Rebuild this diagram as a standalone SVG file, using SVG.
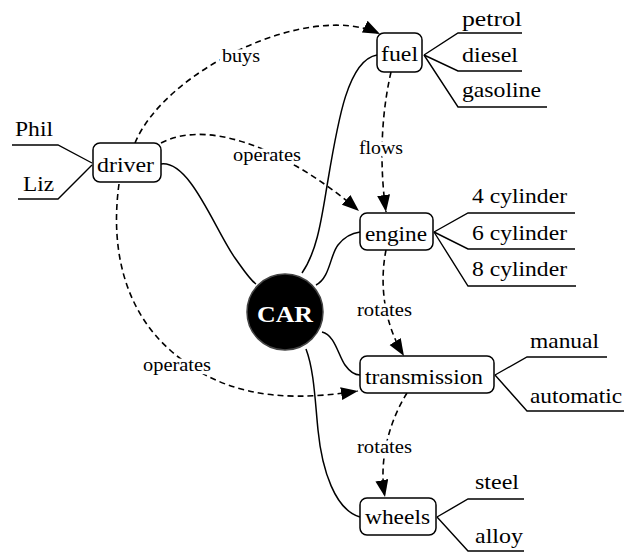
<svg xmlns="http://www.w3.org/2000/svg" width="624" height="552" viewBox="0 0 624 552">
<defs>
<style>
.box{fill:#fff;stroke:#000;stroke-width:1.5}
.t{font-family:"Liberation Serif","Times New Roman",serif;font-size:21px;fill:#000}
.lbl{font-family:"Liberation Serif","Times New Roman",serif;font-size:18px;fill:#000;stroke:#fff;stroke-width:7;stroke-linejoin:round;paint-order:stroke}
.solid{fill:none;stroke:#000;stroke-width:1.5}
.dash{fill:none;stroke:#000;stroke-width:1.6;stroke-dasharray:6 4}
.leaf{fill:none;stroke:#000;stroke-width:1.4}
</style>
<marker id="arr" markerUnits="userSpaceOnUse" markerWidth="18" markerHeight="14" refX="17" refY="6.5" orient="auto">
<path d="M0,0 L17,6.5 L0,13 Z" fill="#000"/>
</marker>
</defs>
<rect width="624" height="552" fill="#fff"/>
<g id="connectors">
<path class="solid" d="M161,164 C190,160 215,230 235,258 C245,272 250,280 256,284"/>
<path class="solid" d="M302,273 C318,250 322,215 328,180 C338,120 348,60 377,55"/>
<path class="solid" d="M316,285 C330,278 330,255 338,245 C345,236 352,233 360,232"/>
<path class="solid" d="M322,332 C335,335 338,355 345,365 C350,372 355,375 360,375"/>
<path class="solid" d="M306,349 C314,370 315,400 318,430 C322,470 335,510 360,517"/>
<polyline class="leaf" points="12,145 58,145 92,163"/>
<polyline class="leaf" points="18,199 58,199 92,165"/>
<polyline class="leaf" points="424,55 458,33 522,33"/>
<polyline class="leaf" points="424,55 458,71 522,71"/>
<polyline class="leaf" points="424,55 458,107 547,107"/>
<polyline class="leaf" points="434,232 468,213 575,213"/>
<polyline class="leaf" points="434,232 468,249 575,249"/>
<polyline class="leaf" points="434,232 468,286 576,286"/>
<polyline class="leaf" points="495,375 527,357 607,357"/>
<polyline class="leaf" points="495,375 527,411 624,411"/>
<polyline class="leaf" points="437,517 468,499 524,499"/>
<polyline class="leaf" points="437,517 468,551 524,551"/>
<path class="dash" d="M135,143 C165,70 310,0 380,34" marker-end="url(#arr)"/>
<path class="dash" d="M161,143 C215,115 300,160 359,211" marker-end="url(#arr)"/>
<path class="dash" d="M391,72 C380,120 380,170 386,212" marker-end="url(#arr)"/>
<path class="dash" d="M386,250 C380,280 382,320 404,356" marker-end="url(#arr)"/>
<path class="dash" d="M407,393 C390,420 378,460 385,497" marker-end="url(#arr)"/>
<path class="dash" d="M119,184 C110,250 125,310 170,350 S270,405 358,391" marker-end="url(#arr)"/>
</g>
<g id="labels">
<text class="lbl" x="222" y="62" textLength="38" lengthAdjust="spacingAndGlyphs">buys</text>
<text class="lbl" x="233" y="161" textLength="68" lengthAdjust="spacingAndGlyphs">operates</text>
<text class="lbl" x="359" y="154" textLength="44" lengthAdjust="spacingAndGlyphs">flows</text>
<text class="lbl" x="357" y="316" textLength="55" lengthAdjust="spacingAndGlyphs">rotates</text>
<text class="lbl" x="357" y="453" textLength="55" lengthAdjust="spacingAndGlyphs">rotates</text>
<text class="lbl" x="143" y="371" textLength="68" lengthAdjust="spacingAndGlyphs">operates</text>
</g>
<g id="leaves">
<text class="t" x="15" y="136" textLength="38" lengthAdjust="spacingAndGlyphs">Phil</text>
<text class="t" x="23" y="191" textLength="31" lengthAdjust="spacingAndGlyphs">Liz</text>
<text class="t" x="462" y="26" textLength="60" lengthAdjust="spacingAndGlyphs">petrol</text>
<text class="t" x="462" y="62" textLength="56" lengthAdjust="spacingAndGlyphs">diesel</text>
<text class="t" x="462" y="97" textLength="79" lengthAdjust="spacingAndGlyphs">gasoline</text>
<text class="t" x="472" y="203" textLength="95" lengthAdjust="spacingAndGlyphs">4 cylinder</text>
<text class="t" x="472" y="240" textLength="95" lengthAdjust="spacingAndGlyphs">6 cylinder</text>
<text class="t" x="472" y="276" textLength="95" lengthAdjust="spacingAndGlyphs">8 cylinder</text>
<text class="t" x="530" y="348" textLength="69" lengthAdjust="spacingAndGlyphs">manual</text>
<text class="t" x="530" y="403" textLength="92" lengthAdjust="spacingAndGlyphs">automatic</text>
<text class="t" x="475" y="489" textLength="44" lengthAdjust="spacingAndGlyphs">steel</text>
<text class="t" x="475" y="543" textLength="48" lengthAdjust="spacingAndGlyphs">alloy</text>
</g>
<g id="driver">
<rect class="box" x="93" y="143" width="68" height="39" rx="7"/>
<text class="t" x="97" y="172" textLength="57" lengthAdjust="spacingAndGlyphs">driver</text>
</g>
<g id="fuel">
<rect class="box" x="377" y="33" width="45" height="39" rx="7"/>
<text class="t" x="381" y="61" textLength="37" lengthAdjust="spacingAndGlyphs">fuel</text>
</g>
<g id="engine">
<rect class="box" x="360" y="213" width="73" height="37" rx="7"/>
<text class="t" x="365" y="241" textLength="62" lengthAdjust="spacingAndGlyphs">engine</text>
</g>
<g id="transmission">
<rect class="box" x="360" y="356" width="134" height="37" rx="7"/>
<text class="t" x="365" y="384" textLength="118" lengthAdjust="spacingAndGlyphs">transmission</text>
</g>
<g id="wheels">
<rect class="box" x="360" y="498" width="76" height="37" rx="7"/>
<text class="t" x="365" y="524" textLength="65" lengthAdjust="spacingAndGlyphs">wheels</text>
</g>
<g id="car">
<ellipse cx="285" cy="312" rx="38" ry="38" fill="#000" stroke="#444" stroke-width="1.5"/>
<text x="257" y="322" textLength="56" lengthAdjust="spacingAndGlyphs" style="font-family:'Liberation Serif','Times New Roman',serif;font-size:23px;font-weight:bold;fill:#fff">CAR</text>
</g>
</svg>
